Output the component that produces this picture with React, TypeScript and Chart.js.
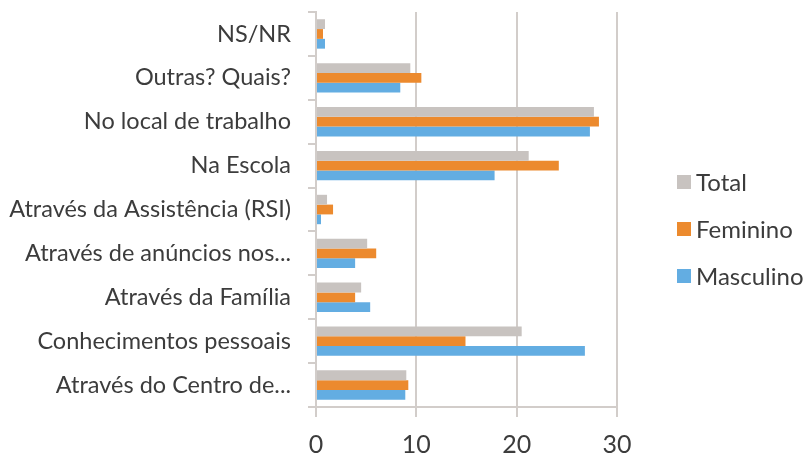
import React, { useEffect, useRef } from "react";
import { Chart, registerables } from "chart.js";

Chart.register(...registerables);

const categories = [
  "NS/NR",
  "Outras? Quais?",
  "No local de trabalho",
  "Na Escola",
  "Através da Assistência (RSI)",
  "Através de anúncios nos...",
  "Através da Família",
  "Conhecimentos pessoais",
  "Através do Centro de...",
];

const totalValues = [0.9, 9.4, 27.7, 21.2, 1.1, 5.1, 4.5, 20.5, 9.0];
const femininoValues = [0.7, 10.5, 28.2, 24.2, 1.7, 6.0, 3.9, 14.9, 9.2];
const masculinoValues = [0.9, 8.4, 27.3, 17.8, 0.5, 3.9, 5.4, 26.8, 8.9];

const seriesNames = ["Total", "Feminino", "Masculino"];
const seriesColors = ["#c8c3c0", "#ec8a2e", "#63ade2"];
const xTicks = [0, 10, 20, 30];

const FONT = "Lato";
const TEXT = "#3c3c3c";
const GRID = "#d2cdca";

const legendPlugin = {
  id: "customLegend",
  afterDraw(chart: any) {
    const ctx = chart.ctx;
    const ys = [182, 229, 276];
    ctx.save();
    chart.data.datasets.forEach((ds: any, i: number) => {
      const y = ys[i];
      ctx.fillStyle = ds.backgroundColor;
      ctx.fillRect(677, y - 7, 14, 14);
      ctx.fillStyle = TEXT;
      ctx.font = `24px ${FONT}`;
      ctx.textBaseline = "middle";
      ctx.textAlign = "left";
      ctx.fillText(ds.label, 696, y + 1);
    });
    ctx.restore();
  },
};

export default function App() {
  const ref = useRef<HTMLCanvasElement>(null);
  useEffect(() => {
    const canvas = ref.current!;
    const chart = new Chart(canvas, {
      type: "bar",
      data: {
        labels: categories,
        datasets: [
          { label: seriesNames[0], data: totalValues, backgroundColor: seriesColors[0] },
          { label: seriesNames[1], data: femininoValues, backgroundColor: seriesColors[1] },
          { label: seriesNames[2], data: masculinoValues, backgroundColor: seriesColors[2] },
        ],
      },
      options: {
        indexAxis: "y",
        animation: false,
        responsive: false,
        maintainAspectRatio: false,
        layout: { padding: { top: 12, right: 190, left: 0, bottom: 0 } },
        datasets: {
          bar: { categoryPercentage: 0.67, barPercentage: 1, borderWidth: 0 },
        },
        plugins: {
          legend: { display: false },
          tooltip: { enabled: false },
        },
        scales: {
          x: {
            min: 0,
            max: 30,
            afterFit: (scale: any) => {
              scale.height = 47;
              scale.paddingLeft = 0;
              scale.paddingRight = 0;
            },
            afterBuildTicks: (scale: any) => {
              scale.ticks = xTicks.map((v) => ({ value: v }));
            },
            grid: { color: GRID, lineWidth: 2, tickLength: 10, drawTicks: true },
            border: { color: GRID, width: 2 },
            ticks: {
              font: { family: FONT, size: 25 },
              color: TEXT,
              padding: 13,
              maxRotation: 0,
            },
          },
          y: {
            afterFit: (scale: any) => {
              scale.width = 316;
              scale.paddingTop = 0;
              scale.paddingBottom = 0;
            },
            grid: {
              drawOnChartArea: false,
              color: GRID,
              lineWidth: 2,
              tickLength: 8,
            },
            border: { color: GRID, width: 2 },
            ticks: {
              font: { family: FONT, size: 23.5 },
              color: TEXT,
              padding: 17,
              autoSkip: false,
            },
          },
        },
      },
      plugins: [legendPlugin],
    } as any);
    return () => chart.destroy();
  }, []);
  return (
    <div style={{ position: "absolute", left: 0, top: 0, width: 807, height: 454, background: "#fff" }}>
      <canvas ref={ref} width={807} height={454} style={{ display: "block" }} />
    </div>
  );
}
